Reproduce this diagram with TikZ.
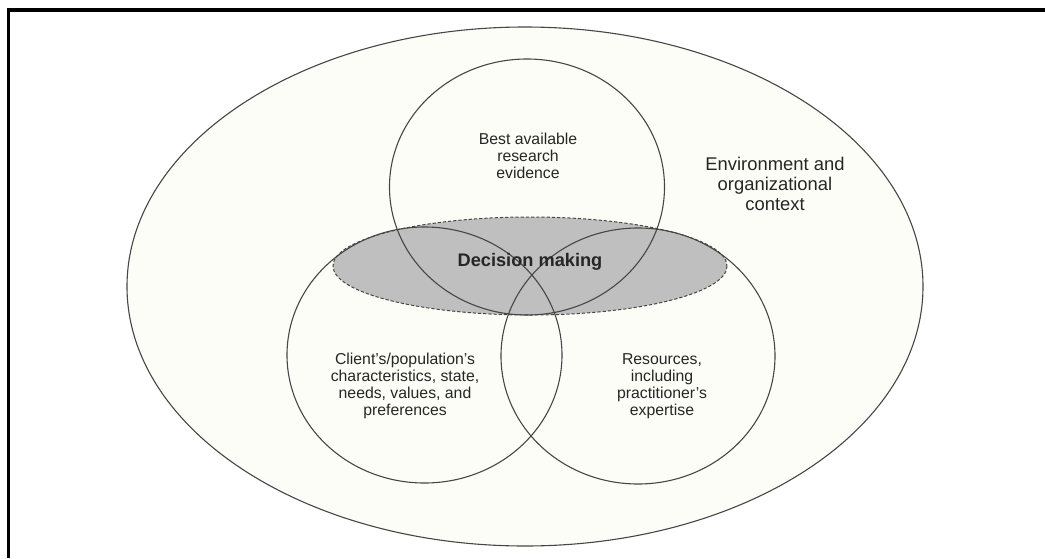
\documentclass[tikz,border=0pt]{standalone}
\usepackage{fontspec}
\setmainfont{Liberation Sans}

\definecolor{paper}{RGB}{253,253,247}
\definecolor{decision}{RGB}{191,191,191}
\definecolor{rim}{RGB}{70,70,70}

\tikzset{
  ring/.style={draw=rim, line width=0.55pt},
  circletext/.style={align=center, text=black!85, font=\fontsize{7.9}{8.6}\selectfont},
}

\begin{document}
\begin{tikzpicture}[x=0.5pt, y=-0.5pt]
    \useasboundingbox (0,0) rectangle (1045,558);
    %frame
    \draw[line width=1.6pt] (8.5,558) -- (8.5,10) -- (1045,10);
    %environment
    \draw[ring, fill=paper] (525,286.5) ellipse [x radius=398, y radius=259.5];
    %decision making
    \draw[draw=rim, fill=decision, line width=0.5pt, dash pattern=on 1.6pt off 1pt]
        (530,266) ellipse [x radius=197, y radius=49];
    %three circles
    \draw[ring] (527,187) ellipse [x radius=137.5, y radius=128];
    \draw[ring] (424.5,355) ellipse [x radius=137.5, y radius=128];
    \draw[ring] (638,356) ellipse [x radius=137, y radius=128];
    %texts
    \node[circletext] (evidence) at (528,156) {Best available\\research\\evidence};
    \node[circletext] (client) at (405,386) {Client's/population's\\characteristics, state,\\needs, values, and\\preferences};
    \node[circletext] (resources) at (662,386) {Resources,\\including\\practitioner's\\expertise};
    \node[text=black!85, font=\bfseries\fontsize{9.1}{10}\selectfont] (decision) at (530,262) {Decision making};
    \node[align=center, text=black!85, font=\fontsize{9.2}{10.2}\selectfont] (context) at (775,184) {Environment and\\organizational\\context};
\end{tikzpicture}
\end{document}
